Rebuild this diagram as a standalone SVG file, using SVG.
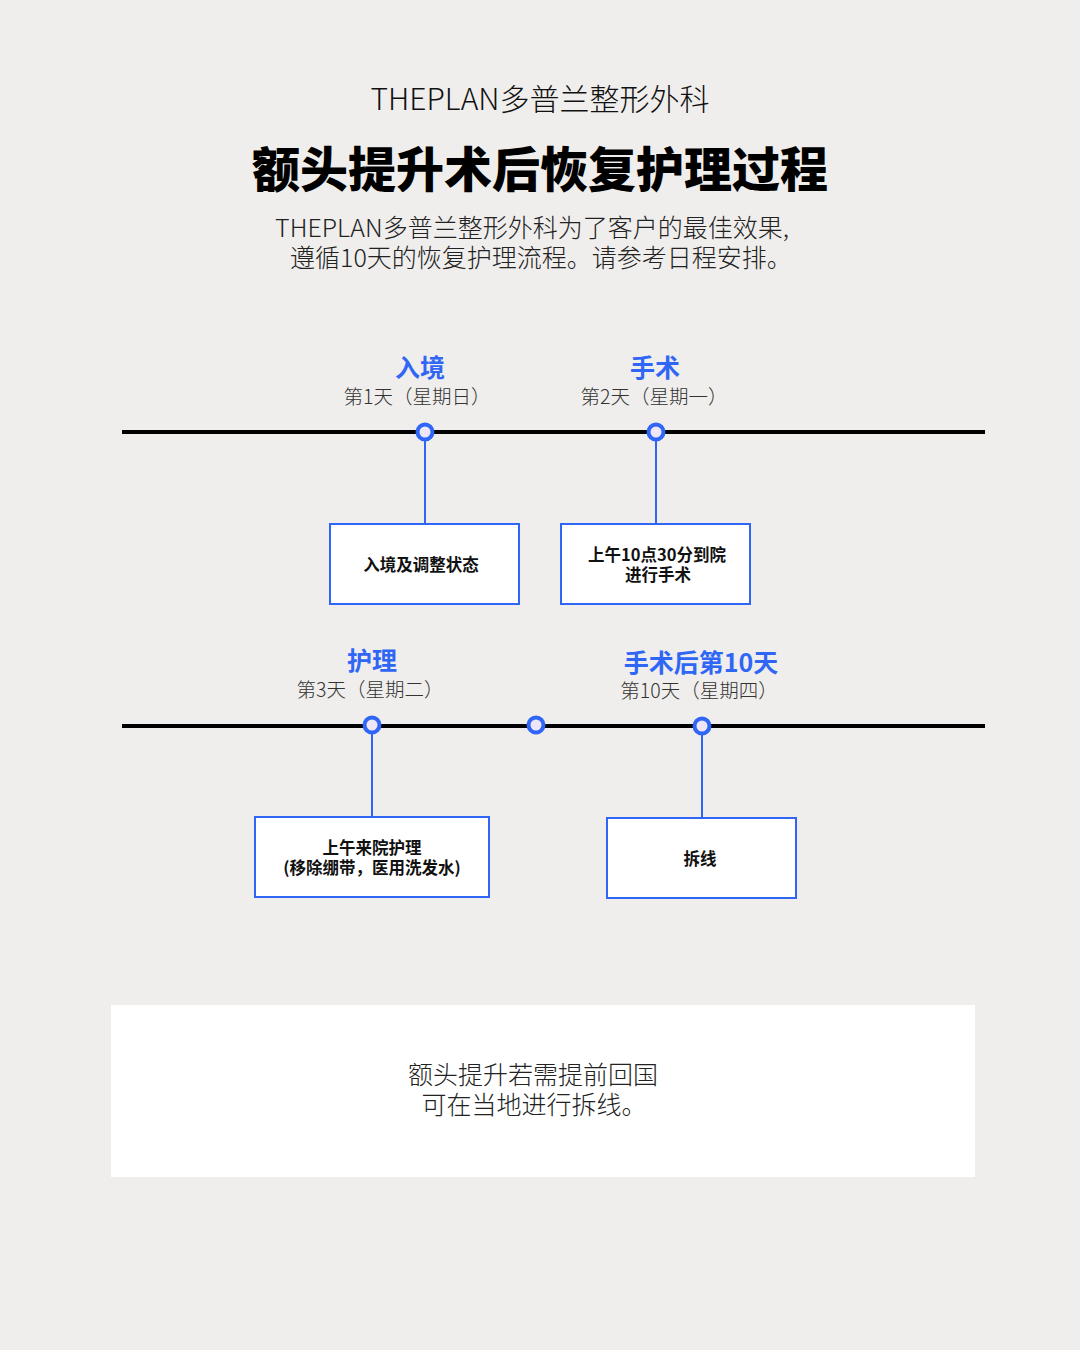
<svg xmlns="http://www.w3.org/2000/svg" width="1080" height="1350" viewBox="0 0 1080 1350">
<style>
text{font-family:"Noto Sans CJK SC","Noto Sans",sans-serif;text-anchor:middle}
.h{font-size:30px;font-weight:300;fill:#111}
.t{font-size:48px;font-weight:900;fill:#000}
.s{font-size:25px;font-weight:300;fill:#222}
.lb{font-size:25px;font-weight:700;fill:#2f66f6}
.dy{font-size:19.5px;font-weight:300;fill:#333}
.bt{font-size:16.5px;font-weight:700;fill:#111}
.ft{font-size:25px;font-weight:300;fill:#222}
.tl{stroke:#000;stroke-width:4}
.cn{stroke:#2f66f6;stroke-width:2}
.dot{fill:#ece6f6;stroke:#2f66f6;stroke-width:4}
.box{fill:#fff;stroke:#2f66f6;stroke-width:2}
</style>
<rect width="1080" height="1350" fill="#efeeec"/>
<g id="header">
<text class="h" x="540" y="110">THEPLAN多普兰整形外科</text>
<text class="t" x="540" y="187">额头提升术后恢复护理过程</text>
<text class="s" x="532" y="237">THEPLAN多普兰整形外科为了客户的最佳效果,</text>
<text class="s" x="541" y="267">遵循10天的恢复护理流程。请参考日程安排。</text>
</g>
<g id="timelines">
<line class="tl" x1="122" y1="432" x2="985" y2="432"/>
<line class="tl" x1="122" y1="726" x2="985" y2="726"/>
</g>
<g id="connectors">
<line class="cn" x1="425" y1="440" x2="425" y2="524"/>
<line class="cn" x1="656" y1="440" x2="656" y2="524"/>
<line class="cn" x1="372" y1="733" x2="372" y2="817"/>
<line class="cn" x1="702" y1="734" x2="702" y2="818"/>
</g>
<g id="node-day1">
<text class="lb" x="420" y="377">入境</text>
<text class="dy" x="417" y="404">第1天（星期日）</text>
<circle class="dot" cx="425" cy="432" r="7.5"/>
<rect class="box" x="330" y="524" width="189" height="80"/>
<text class="bt" x="421" y="571">入境及调整状态</text>
</g>
<g id="node-day2">
<text class="lb" x="655" y="377">手术</text>
<text class="dy" x="654" y="404">第2天（星期一）</text>
<circle class="dot" cx="656" cy="432" r="7.5"/>
<rect class="box" x="561" y="524" width="189" height="80"/>
<text class="bt" x="657" y="561">上午10点30分到院</text>
<text class="bt" x="658" y="581">进行手术</text>
</g>
<g id="node-day3">
<text class="lb" x="372" y="670">护理</text>
<text class="dy" x="370" y="697">第3天（星期二）</text>
<circle class="dot" cx="372" cy="725" r="7.5"/>
<rect class="box" x="255" y="817" width="234" height="80"/>
<text class="bt" x="372" y="854">上午来院护理</text>
<text class="bt" x="372" y="874">(移除绷带，医用洗发水)</text>
</g>
<g id="node-mid">
<circle class="dot" cx="536" cy="725" r="7.5"/>
</g>
<g id="node-day10">
<text class="lb" x="701" y="672">手术后第10天</text>
<text class="dy" x="699" y="698">第10天（星期四）</text>
<circle class="dot" cx="702" cy="726" r="7.5"/>
<rect class="box" x="607" y="818" width="189" height="80"/>
<text class="bt" x="700" y="865">拆线</text>
</g>
<g id="note">
<rect x="111" y="1005" width="864" height="172" fill="#fff"/>
<text class="ft" x="533" y="1084">额头提升若需提前回国</text>
<text class="ft" x="534" y="1114">可在当地进行拆线。</text>
</g>
</svg>
